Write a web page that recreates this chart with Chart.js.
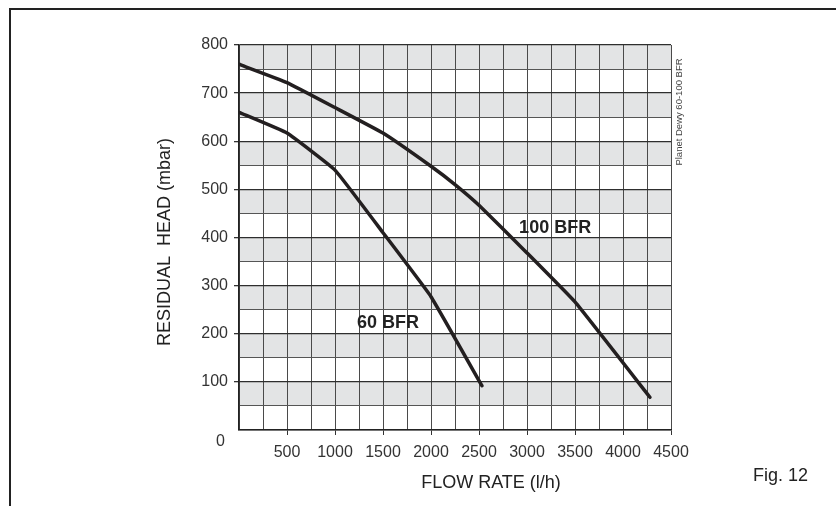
<!DOCTYPE html>
<html>
<head>
<meta charset="utf-8">
<script src="https://cdn.jsdelivr.net/npm/chart.js@4"></script>
<style>
    body { margin: 0; background: #fff; }
    #wrap { position: relative; width: 836px; height: 506px; }
    #frame {
        position: absolute; left: 9px; top: 8px; right: 0; bottom: 0;
        border-top: 2px solid #222; border-left: 2px solid #222;
    }
    canvas { position: absolute; left: 0; top: 0; }
</style>
</head>
<body>
<div id="wrap">
    <div id="frame"></div>
    <canvas id="pumpChart" width="836" height="506"></canvas>
</div>
<script>
// Flow rate (l/h) and residual head (mbar)
const flow60 = [0, 500, 1000, 1500, 2000, 2530];
const head60 = [660, 617, 540, 410, 277, 92];
const flow100 = [0, 500, 1000, 1500, 2000, 2250, 2500, 3000, 3500, 4280];
const head100 = [760, 722, 670, 617, 548, 510, 467, 368, 266, 68];

const seriesNames = ['60 BFR', '100 BFR'];
// where the curve names sit, in data units [flow, head]
const nameAnchors = [[1551, 223], [3293, 420]];

const xMin = 0, xMax = 4500, xStep = 250, xLabelStep = 500;
const yMin = 0, yMax = 800, yStep = 50, yLabelStep = 100;

const xTitle = 'FLOW RATE (l/h)';
const yTitle = 'RESIDUAL  HEAD (mbar)';
const sideNote = 'Planet Dewy 60-100 BFR';
const figLabel = 'Fig. 12';

Chart.defaults.font.family = '"Liberation Sans", Arial, sans-serif';
Chart.defaults.color = '#333';

const toPoints = (xs, ys) => xs.map((x, i) => ({ x: x, y: ys[i] }));

// gray bands in the upper half of every 100 mbar step
const bandsPlugin = {
    id: 'bands',
    beforeDraw(chart) {
        const { ctx, chartArea, scales } = chart;
        ctx.save();
        ctx.fillStyle = '#e3e4e5';
        for (let v = yMin + yStep; v < yMax; v += yLabelStep) {
            const top = scales.y.getPixelForValue(v + yStep);
            const bottom = scales.y.getPixelForValue(v);
            ctx.fillRect(chartArea.left, top, chartArea.right - chartArea.left, bottom - top);
        }
        ctx.restore();
    }
};

const textPlugin = {
    id: 'texts',
    afterDraw(chart) {
        const { ctx, scales } = chart;
        ctx.save();
        ctx.fillStyle = '#222';
        ctx.textBaseline = 'middle';

        // curve names
        ctx.font = 'bold 18px "Liberation Sans", Arial, sans-serif';
        ctx.textAlign = 'center';
        seriesNames.forEach((name, i) => {
            const px = scales.x.getPixelForValue(nameAnchors[i][0]);
            const py = scales.y.getPixelForValue(nameAnchors[i][1]);
            ctx.fillText(name, px, py);
        });

        // axis titles
        ctx.font = '18px "Liberation Sans", Arial, sans-serif';
        ctx.fillText(xTitle, 491, 483);
        ctx.save();
        ctx.translate(165, 242);
        ctx.rotate(-Math.PI / 2);
        ctx.fillText(yTitle, 0, 0);
        ctx.restore();

        ctx.textAlign = 'left';
        ctx.fillText(figLabel, 753, 476);

        // zero of the head axis sits below the corner
        ctx.fillStyle = '#333';
        ctx.font = '16px "Liberation Sans", Arial, sans-serif';
        ctx.textAlign = 'right';
        ctx.fillText('0', 225, 442);

        // small vertical note on the right
        ctx.fillStyle = '#444';
        ctx.font = '9.5px "Liberation Sans", Arial, sans-serif';
        ctx.textAlign = 'center';
        ctx.save();
        ctx.translate(679, 112);
        ctx.rotate(-Math.PI / 2);
        ctx.fillText(sideNote, 0, 0);
        ctx.restore();

        ctx.restore();
    }
};

const lineStyle = {
    borderColor: '#231f20',
    borderWidth: 3.5,
    pointRadius: 0,
    tension: 0.1,
    fill: false,
    borderCapStyle: 'round',
    borderJoinStyle: 'round'
};

new Chart(document.getElementById('pumpChart'), {
    type: 'line',
    data: {
        datasets: [
            { label: seriesNames[0], data: toPoints(flow60, head60), ...lineStyle },
            { label: seriesNames[1], data: toPoints(flow100, head100), ...lineStyle }
        ]
    },
    options: {
        responsive: false,
        animation: false,
        layout: { padding: { top: 45, right: 165, left: 0, bottom: 0 } },
        plugins: {
            legend: { display: false },
            tooltip: { enabled: false }
        },
        scales: {
            x: {
                type: 'linear',
                min: xMin,
                max: xMax,
                afterFit(scale) { scale.height = 76; },
                ticks: {
                    stepSize: xStep,
                    autoSkip: false,
                    maxRotation: 0,
                    padding: 8,
                    font: { size: 16 },
                    color: '#333',
                    callback: v => (v % xLabelStep === 0 && v !== 0) ? v : ''
                },
                grid: {
                    color: '#4a4a4a',
                    lineWidth: 1,
                    tickLength: 5,
                    tickColor: c => (c.tick.value % xLabelStep === 0 && c.tick.value !== 0) ? '#333' : 'rgba(0,0,0,0)'
                },
                border: { color: '#222', width: 1.5 }
            },
            y: {
                min: yMin,
                max: yMax,
                afterFit(scale) { scale.width = 239; },
                ticks: {
                    stepSize: yStep,
                    autoSkip: false,
                    padding: 6,
                    font: { size: 16 },
                    color: '#333',
                    callback: v => (v % yLabelStep === 0 && v !== 0) ? v : ''
                },
                grid: {
                    color: c => (c.tick.value % yLabelStep === 0) ? '#2e2e2e' : '#555',
                    lineWidth: c => (c.tick.value % yLabelStep === 0) ? 1.3 : 1,
                    tickLength: 5,
                    tickColor: c => (c.tick.value % yLabelStep === 0 && c.tick.value !== 0) ? '#333' : 'rgba(0,0,0,0)'
                },
                border: { color: '#222', width: 1.5 }
            }
        }
    },
    plugins: [bandsPlugin, textPlugin]
});
</script>
</body>
</html>
